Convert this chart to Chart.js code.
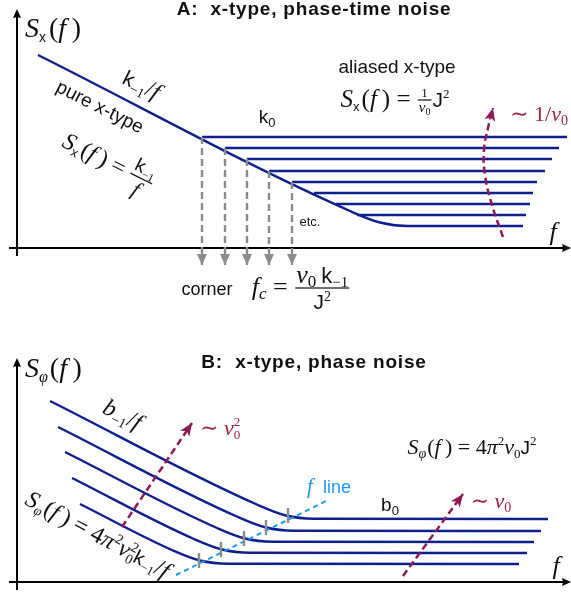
<!DOCTYPE html>
<html>
<head>
<meta charset="utf-8">
<script src="https://cdn.jsdelivr.net/npm/chart.js@4.4.1/dist/chart.umd.min.js"></script>
<style>
  body { margin: 0; background: #fff; }
  canvas { display: block; }
</style>
</head>
<body>
<canvas id="panelA" width="571" height="320"></canvas>
<canvas id="panelB" width="571" height="273"></canvas>
<script>
// colours
const BLUE = '#0f1f8e', GRAY = '#8c8c8c', MAG = '#8e1a56', RED = '#9a1f3c', CYAN = '#2196f0';

// ---- Panel A: x-type, phase-time noise (f and S in arbitrary units, origin at the axes) ----
// pure x-type 1/f line bending into the lowest k0 level
const aSlopeF = [2.1, 33.3, 36.3, 39.1, 50.6];
const aSlopeS = [19.3, 3.7, 2.55, 2.2, 2.2];
// aliased k0 levels
const aLevelS = [11.1, 10.0, 8.9, 7.7, 6.6, 5.5, 4.4, 3.3];
const aLevelFrom = [18.5, 20.8, 23.0, 25.2, 27.5, 29.7, 31.9, 34.0];
const aLevelTo = [55.0, 54.2, 53.5, 52.8, 52.0, 51.6, 51.3, 50.9];
// corner arrows (first five corners) going down past the f axis
const aCornerCount = 5;
const aCornerTip = -1.7;
// ~1/nu0 curved arrow
const aAliasF = [48.6, 47.5, 46.8, 46.7, 47.1, 47.6];
const aAliasS = [1.1, 4.3, 7.3, 9.8, 12.0, 14.0];

// ---- Panel B: x-type, phase noise ----
const bLineF = [
  [3.3, 24.1, 26.9, 29.7, 53.1],
  [4.1, 22.1, 24.9, 27.7, 52.4],
  [4.8, 20.0, 22.8, 25.6, 51.7],
  [5.5, 17.7, 20.5, 23.3, 51.0],
  [6.3, 15.5, 18.3, 21.1, 50.2]
];
const bLineS = [
  [18.1, 7.7, 6.65, 6.33, 6.3],
  [15.5, 6.5, 5.45, 5.13, 5.1],
  [13.0, 5.4, 4.35, 4.03, 4.0],
  [10.4, 4.3, 3.25, 2.93, 2.9],
  [7.8, 3.2, 2.15, 1.83, 1.8]
];
// corner ticks on the f line
const bKneeF = [27.1, 24.9, 22.7, 20.4, 18.2];
const bKneeS = [6.65, 5.45, 4.35, 3.25, 2.15];
const bFLineF = [15.9, 30.9];
const bFLineS = [0.7, 8.1];
// ~nu0^2 and ~nu0 arrows
const bNu2F = [10.5, 17.5];
const bNu2S = [5.5, 15.9];
const bNuF = [38.6, 44.6];
const bNuS = [0.6, 8.8];

// ---- text helpers ----
const SERIF = '"Liberation Serif", "DejaVu Serif", serif';
const SANS = '"Liberation Sans", Arial, sans-serif';
const I = (t, s, dy = 0, na = false) => ({ t, f: `italic ${s}px ${SERIF}`, dy, na });
const R = (t, s, dy = 0, na = false) => ({ t, f: `${s}px ${SERIF}`, dy, na });
const N = (t, s, dy = 0) => ({ t, f: `${s}px ${SANS}`, dy });
const B = (t, s) => ({ t, f: `bold ${s}px ${SANS}`, ls: '0.8px' });
const GAP = w => ({ t: '', w });

const labelsA = [
  { f: 29.7, s: 23.3, parts: [B('A:  x-type, phase-time noise', 19)] },
  { f: 0.8, s: 21.1, align: 'left', parts: [I('S', 28), N('x', 14, 5), GAP(3), R('(', 28), I('f', 28), R('\u2009)', 28)] },
  { f: 12.4, s: 16.2, angle: 26.6, by: 6, parts: [N('k', 21), R('\u22121', 14, 5), R('/', 24), I('f', 24)] },
  { f: 8.3, s: 14.1, angle: 26.6, by: 6, parts: [N('pure x-type', 19)] },
  { f: 9.1, s: 8.5, angle: 26.6, by: 6, parts: [I('S', 24), N('x', 13, 4), GAP(2), R('(', 24), I('f', 24), R('\u2009) = ', 24),
      { frac: [[N('k', 19), R('\u22121', 12, 4)], [I('f', 22)]], axis: 7, gap: [5, 19] }] },
  { f: 25.0, s: 13.1, by: 6, parts: [N('k', 19), N('0', 13, 4)] },
  { f: 38.0, s: 18.1, by: 6, parts: [N('aliased x-type', 19)] },
  { f: 37.8, s: 14.8, by: 7, parts: [I('S', 25), N('x', 13, 4), GAP(2), R('(', 25), I('f', 25), R('\u2009) = ', 25),
      { frac: [[R('1', 13)], [I('\u03bd', 15), R('0', 10, 3)]], axis: 7, gap: [3, 12] }, N('J', 21), R('2', 13, -9)] },
  { f: 29.3, s: 2.7, by: 5, parts: [N('etc.', 13)] },
  { f: 19.0, s: -4.1, by: 6, parts: [N('corner', 18)] },
  { f: 28.4, s: -4.1, by: 6, parts: [I('f', 26), I('c', 17, 4), R(' = ', 26),
      { frac: [[I('\u03bd', 26), R('0', 17, 4), GAP(5), N('k', 22), R('\u22121', 15, 4)], [N('J', 21), R('2', 14, -8)]], axis: 7, gap: [5, 21] }] },
  { f: 52.2, s: 13.4, by: 7, color: RED, parts: [R('\u223c 1/', 22), I('\u03bd', 22), R('0', 14, 4)] },
  { f: 53.6, s: 1.6, by: 8, parts: [I('f', 26)] }
];

const labelsB = [
  { f: 29.7, s: 21.4, parts: [B('B:  x-type, phase noise', 19)] },
  { f: 0.8, s: 20.5, align: 'left', parts: [I('S', 28), I('\u03c6', 16, 5), GAP(2), R('(', 28), I('f', 28), R('\u2009)', 28)] },
  { f: 10.5, s: 16.6, angle: 26.6, by: 6, parts: [I('b', 24), R('\u22121', 14, 5), R('/', 24), I('f', 24)] },
  { f: 18.3, s: 15.3, align: 'left', by: 6, color: RED, parts: [R('\u223c ', 22), I('\u03bd', 22), R('2', 13, -9, true), R('0', 13, 4)] },
  { f: 45.5, s: 13.5, by: 7, parts: [I('S', 22), I('\u03c6', 14, 4), GAP(1), R('(', 22), I('f', 22), R('\u2009) = 4', 22), I('\u03c0', 22), R('2', 13, -9),
      I('\u03bd', 22), R('0', 13, 4), N('J', 19), R('2', 13, -9)] },
  { f: 31.2, s: 9.5, by: 6, color: CYAN, parts: [I('f', 21), N('  line', 18)] },
  { f: 37.3, s: 7.7, by: 6, parts: [N('b', 19), N('0', 13, 4)] },
  { f: 47.4, s: 8.0, by: 6, color: RED, parts: [R('\u223c ', 22), I('\u03bd', 22), R('0', 14, 4)] },
  { f: 8.0, s: 4.6, angle: 28, by: 6, parts: [I('S', 24), I('\u03c6', 14, 4), GAP(1), R('(', 24), I('f', 24), R('\u2009) = 4', 24), I('\u03c0', 24), R('2', 14, -9),
      I('\u03bd', 24), R('2', 14, -9, true), R('0', 14, 4), N('k', 20), R('\u22121', 13, 4), R('/', 24), I('f', 24)] },
  { f: 53.9, s: 1.6, by: 8, parts: [I('f', 26)] }
];

function partWidth(ctx, p) {
  if (p.frac) return Math.max(runWidth(ctx, p.frac[0]), runWidth(ctx, p.frac[1])) + 4;
  if (p.w !== undefined) return p.w;
  if (p.na) return 0;
  ctx.font = p.f;
  ctx.letterSpacing = p.ls || '0px';
  return ctx.measureText(p.t).width;
}

function runWidth(ctx, parts) {
  return parts.reduce((w, p) => w + partWidth(ctx, p), 0);
}

function drawRun(ctx, parts, x, y) {
  parts.forEach(p => {
    const w = partWidth(ctx, p);
    if (p.frac) {
      const [num, den] = p.frac;
      const axis = y - p.axis;
      drawRun(ctx, num, x + (w - runWidth(ctx, num)) / 2, axis - p.gap[0]);
      drawRun(ctx, den, x + (w - runWidth(ctx, den)) / 2, axis + p.gap[1]);
      ctx.fillRect(x + 1, axis - 0.6, w - 2, 1.2);
    } else if (p.t) {
      ctx.font = p.f;
      ctx.letterSpacing = p.ls || '0px';
      ctx.fillText(p.t, x, y + (p.dy || 0));
    }
    x += w;
  });
}

function drawLabel(ctx, px, py, l) {
  ctx.save();
  ctx.translate(px, py);
  if (l.angle) ctx.rotate(l.angle * Math.PI / 180);
  ctx.fillStyle = l.color || '#111';
  ctx.textAlign = 'left';
  ctx.textBaseline = 'alphabetic';
  const w = runWidth(ctx, l.parts);
  drawRun(ctx, l.parts, l.align === 'left' ? 0 : -w / 2, l.by || 0);
  ctx.restore();
}

// arrow head at (x1,y1) pointing away from (x0,y0)
function drawHead(ctx, x0, y0, x1, y1, h) {
  ctx.save();
  ctx.translate(x1, y1);
  ctx.rotate(Math.atan2(y1 - y0, x1 - x0));
  ctx.fillStyle = h.color;
  ctx.beginPath();
  ctx.moveTo(0, 0);
  ctx.lineTo(-h.len, -h.half);
  ctx.lineTo(-h.len + h.notch, 0);
  ctx.lineTo(-h.len, h.half);
  ctx.closePath();
  ctx.fill();
  ctx.restore();
}

const AXIS_HEAD = { color: '#000', len: 9, half: 4, notch: 1 };
const GRAY_HEAD = { color: GRAY, len: 11, half: 5, notch: 0 };
const MAG_HEAD = { color: MAG, len: 13, half: 5.5, notch: 3.5 };

// axes + arrow heads + text, drawn through the chart's own scales
function sketchPlugin(labels, axes) {
  return {
    id: 'sketch',
    beforeDatasetsDraw(chart) {
      const { ctx, scales: { x, y } } = chart;
      ctx.save();
      ctx.strokeStyle = '#000';
      ctx.lineWidth = 2;
      const x0 = x.getPixelForValue(0), y0 = y.getPixelForValue(0);
      const xa = x.getPixelForValue(axes.xFrom), xb = x.getPixelForValue(axes.xTo);
      const ya = y.getPixelForValue(axes.yFrom), yb = y.getPixelForValue(axes.yTo);
      ctx.beginPath();
      ctx.moveTo(xa, y0); ctx.lineTo(xb - 4, y0);
      ctx.moveTo(x0, ya); ctx.lineTo(x0, yb + 4);
      ctx.stroke();
      drawHead(ctx, xa, y0, xb, y0, AXIS_HEAD);
      drawHead(ctx, x0, ya, x0, yb, AXIS_HEAD);
      ctx.restore();
    },
    afterDatasetsDraw(chart) {
      const { ctx, scales: { x, y } } = chart;
      chart.data.datasets.forEach((ds, i) => {
        if (!ds.head) return;
        const pts = chart.getDatasetMeta(i).data;
        const a = pts[pts.length - 2], b = pts[pts.length - 1];
        drawHead(ctx, a.x, a.y, b.x, b.y, ds.head);
      });
      labels.forEach(l => drawLabel(ctx, x.getPixelForValue(l.f), y.getPixelForValue(l.s), l));
    }
  };
}

const pts = (fs, ss) => fs.map((f, i) => ({ x: f, y: ss[i] }));

function line(data, color, extra) {
  return Object.assign({
    data: data,
    borderColor: color,
    borderWidth: 2.4,
    pointRadius: 0,
    fill: false,
    tension: 0,
    clip: false,
    order: 3
  }, extra || {});
}

function makeChart(id, datasets, yMin, yMax, labels, axes) {
  return new Chart(document.getElementById(id), {
    type: 'line',
    data: { datasets: datasets },
    options: {
      responsive: false,
      animation: false,
      devicePixelRatio: 1,
      layout: { padding: 0, autoPadding: false },
      events: [],
      plugins: { legend: { display: false }, tooltip: { enabled: false }, title: { display: false } },
      scales: {
        x: { type: 'linear', display: false, min: -1.7, max: 55.4 },
        y: { type: 'linear', display: false, min: yMin, max: yMax }
      }
    },
    plugins: [sketchPlugin(labels, axes)]
  });
}

// ---- build panel A ----
const datasetsA = [];
aLevelS.forEach((s, i) => {
  datasetsA.push(line(pts([aLevelFrom[i], aLevelTo[i]], [s, s]), BLUE));
});
datasetsA.push(line(pts(aSlopeF, aSlopeS), BLUE, { cubicInterpolationMode: 'monotone' }));
for (let i = 0; i < aCornerCount; i++) {
  datasetsA.push(line(pts([aLevelFrom[i], aLevelFrom[i]], [aLevelS[i], aCornerTip]), GRAY,
    { borderDash: [7, 4], borderWidth: 2.4, head: GRAY_HEAD, order: 1 }));
}
datasetsA.push(line(pts(aAliasF, aAliasS), MAG, { tension: 0.45, borderDash: [7, 4], borderWidth: 2.5, head: MAG_HEAD, order: 0 }));

// canvas A: 320 px tall, S axis origin 248 px from the top
makeChart('panelA', datasetsA, -7.2, 24.8, labelsA, { xFrom: -0.8, xTo: 55.4, yFrom: -0.8, yTo: 23.9 });

// ---- build panel B ----
const datasetsB = [];
bLineF.forEach((fs, i) => {
  datasetsB.push(line(pts(fs, bLineS[i]), BLUE, { cubicInterpolationMode: 'monotone' }));
});
datasetsB.push(line(pts(bFLineF, bFLineS), CYAN, { borderDash: [5, 4], borderWidth: 2, order: 2 }));
datasetsB.push(line(pts(bKneeF, bKneeS), GRAY, {
  showLine: false, pointStyle: 'line', pointRotation: 90, pointRadius: 7.5,
  pointBorderWidth: 2.4, pointBorderColor: GRAY, order: 1
}));
datasetsB.push(line(pts(bNu2F, bNu2S), MAG, { borderDash: [7, 4], borderWidth: 2.5, head: MAG_HEAD, order: 0 }));
datasetsB.push(line(pts(bNuF, bNuS), MAG, { borderDash: [7, 4], borderWidth: 2.5, head: MAG_HEAD, order: 0 }));

// canvas B: 273 px tall, starting 320 px down the page
makeChart('panelB', datasetsB, -1.1, 26.2, labelsB, { xFrom: -0.8, xTo: 55.4, yFrom: -0.8, yTo: 22.4 });
</script>
</body>
</html>
